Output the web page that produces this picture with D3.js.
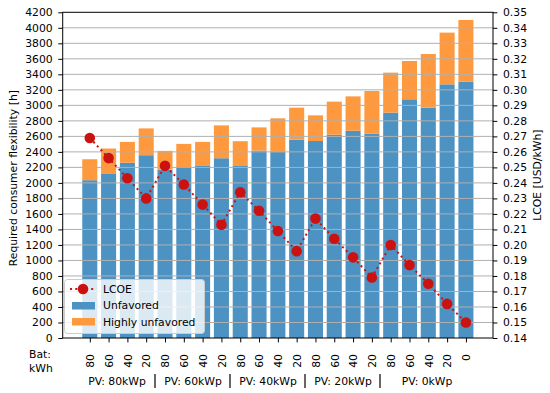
<!DOCTYPE html>
<html>
<head>
<meta charset="utf-8">
<script src="https://cdn.jsdelivr.net/npm/d3@7"></script>
<style>
  body { margin: 0; background: #fff; }
  text { font-family: "DejaVu Sans", sans-serif; fill: #000; }
</style>
</head>
<body>
<div class="chart"></div>
<script>
var width = 550, height = 393;
var margin = { top: 12.3, right: 57, bottom: 55, left: 62.7 };

// data
var batteries = ["80", "60", "40", "20", "80", "60", "40", "20", "80", "60", "40", "20",
  "80", "60", "40", "20", "80", "60", "40", "20", "0"];
var unfavored = [2035, 2123, 2260, 2357, 2170, 2204, 2226, 2318, 2226, 2417, 2398,
  2557, 2540, 2622, 2673, 2635, 2906, 3078, 2970, 3271, 3306];
var totalFlex = [2305, 2443, 2529, 2703, 2413, 2503, 2529, 2742, 2538, 2716, 2833,
  2970, 2871, 3048, 3116, 3185, 3422, 3572, 3662, 3938, 4101];
var lcoe = [0.269, 0.256, 0.243, 0.230, 0.251, 0.239, 0.226, 0.213, 0.234, 0.222, 0.209,
  0.196, 0.217, 0.204, 0.192, 0.179, 0.200, 0.187, 0.175, 0.162, 0.150];
var pvGroups = ["PV: 80kWp", "PV: 60kWp", "PV: 40kWp", "PV: 20kWp", "PV: 0kWp"];
var leftTicks = d3.range(0, 4201, 200);
var rightTicks = d3.range(14, 36).map(function (d) { return d / 100; });

var blue = "#4c92c3", orange = "#ff993e", red = "#cc1111";

var svg = d3.select('.chart').append('svg')
  .attr("width", width)
  .attr("height", height);

var x0 = margin.left, x1 = width - margin.right;
var y0 = height - margin.bottom, y1 = margin.top;

var x = d3.scaleLinear().domain([-1.44, 21.44]).range([x0, x1]);
var y = d3.scaleLinear().domain([0, 4200]).range([y0, y1]);
var y2 = d3.scaleLinear().domain([0.14, 0.35]).range([y0, y1]);
var barW = x(0.8) - x(0);

var idx = d3.range(batteries.length);

// bars
svg.append("g").selectAll("rect.unf")
  .data(idx).enter().append("rect")
  .attr("x", function (i) { return x(i) - barW / 2; })
  .attr("y", function (i) { return y(unfavored[i]); })
  .attr("width", barW)
  .attr("height", function (i) { return y(0) - y(unfavored[i]); })
  .attr("fill", blue);

svg.append("g").selectAll("rect.high")
  .data(idx).enter().append("rect")
  .attr("x", function (i) { return x(i) - barW / 2; })
  .attr("y", function (i) { return y(totalFlex[i]); })
  .attr("width", barW)
  .attr("height", function (i) { return y(unfavored[i]) - y(totalFlex[i]); })
  .attr("fill", orange);

// grid above the bars
svg.append("g").selectAll("line")
  .data(leftTicks.slice(1, -1)).enter().append("line")
  .attr("x1", x0).attr("x2", x1)
  .attr("y1", function (d) { return y(d); })
  .attr("y2", function (d) { return y(d); })
  .attr("stroke", "#b0b0b0")
  .attr("stroke-width", 1);

// LCOE line
var line = d3.line()
  .x(function (i) { return x(i); })
  .y(function (i) { return y2(lcoe[i]); });

svg.append("path")
  .datum(idx)
  .attr("d", line)
  .attr("fill", "none")
  .attr("stroke", red)
  .attr("stroke-width", 2)
  .attr("stroke-dasharray", "2,3.3");

svg.append("g").selectAll("circle")
  .data(idx).enter().append("circle")
  .attr("cx", function (i) { return x(i); })
  .attr("cy", function (i) { return y2(lcoe[i]); })
  .attr("r", 5.3)
  .attr("fill", red);

// axes
var fs = "10.8px";
var yAxis = d3.axisLeft(y).tickValues(leftTicks).tickSize(4.4).tickPadding(5.6)
  .tickFormat(d3.format("d"));
var gy = svg.append("g").attr("transform", "translate(" + x0 + ",0)").call(yAxis);
var y2Axis = d3.axisRight(y2).tickValues(rightTicks).tickSize(4.4).tickPadding(5.6)
  .tickFormat(d3.format(".2f"));
var gy2 = svg.append("g").attr("transform", "translate(" + x1 + ",0)").call(y2Axis);
var xAxis = d3.axisBottom(x).tickValues(idx).tickSize(4.4).tickFormat(function (i) { return batteries[i]; });
var gx = svg.append("g").attr("transform", "translate(0," + y0 + ")").call(xAxis);

[gy, gy2, gx].forEach(function (g) {
  g.select(".domain").remove();
  g.selectAll("line").attr("stroke", "#000");
  g.selectAll("text").style("font-size", fs).style("font-family", "DejaVu Sans");
});
gx.selectAll("text")
  .attr("transform", "rotate(-90)")
  .attr("x", -16).attr("y", 0).attr("dy", "0.35em")
  .style("text-anchor", "end");

// frame
svg.append("rect")
  .attr("x", x0).attr("y", y1)
  .attr("width", x1 - x0).attr("height", y0 - y1)
  .attr("fill", "none").attr("stroke", "#000").attr("stroke-width", 1);

// axis labels
svg.append("text")
  .attr("transform", "translate(17," + ((y0 + y1) / 2 + 3) + ")rotate(-90)")
  .style("text-anchor", "middle").style("font-size", fs)
  .text("Required consumer flexibility [h]");

svg.append("text")
  .attr("transform", "translate(541," + ((y0 + y1) / 2) + ")rotate(-90)")
  .style("text-anchor", "middle").style("font-size", fs)
  .text("LCOE [USD/kWh]");

svg.append("text").attr("x", 40).attr("y", 358)
  .style("text-anchor", "middle").style("font-size", fs).text("Bat:");
svg.append("text").attr("x", 41).attr("y", 372)
  .style("text-anchor", "middle").style("font-size", fs).text("kWh");

// PV group labels
var groupX = [117, 193, 268, 343, 427];
svg.append("g").selectAll("text")
  .data(pvGroups).enter().append("text")
  .attr("x", function (d, i) { return groupX[i]; })
  .attr("y", 385)
  .style("text-anchor", "middle").style("font-size", fs)
  .text(function (d) { return d; });
var sepX = [155, 230, 305, 380];
svg.append("g").selectAll("line")
  .data(sepX).enter().append("line")
  .attr("x1", function (d) { return d; }).attr("x2", function (d) { return d; })
  .attr("y1", 374).attr("y2", 388)
  .attr("stroke", "#000").attr("stroke-width", 1.2);

// legend
var lg = svg.append("g");
lg.append("rect")
  .attr("x", 64.5).attr("y", 279.5).attr("width", 140).attr("height", 54)
  .attr("rx", 3)
  .attr("fill", "rgba(255,255,255,0.8)")
  .attr("stroke", "#cccccc");
lg.append("line")
  .attr("x1", 70).attr("x2", 96).attr("y1", 289).attr("y2", 289)
  .attr("stroke", red).attr("stroke-width", 2).attr("stroke-dasharray", "2,3.3");
lg.append("circle").attr("cx", 83).attr("cy", 289).attr("r", 5.3).attr("fill", red);
lg.append("rect").attr("x", 72).attr("y", 302).attr("width", 23).attr("height", 7.5).attr("fill", blue);
lg.append("rect").attr("x", 72).attr("y", 318).attr("width", 23).attr("height", 7.5).attr("fill", orange);
var legendText = ["LCOE", "Unfavored", "Highly unfavored"];
lg.selectAll("text.lt")
  .data(legendText).enter().append("text")
  .attr("x", 103)
  .attr("y", function (d, i) { return 293 + i * 16.3; })
  .style("font-size", fs)
  .text(function (d) { return d; });
</script>
</body>
</html>
